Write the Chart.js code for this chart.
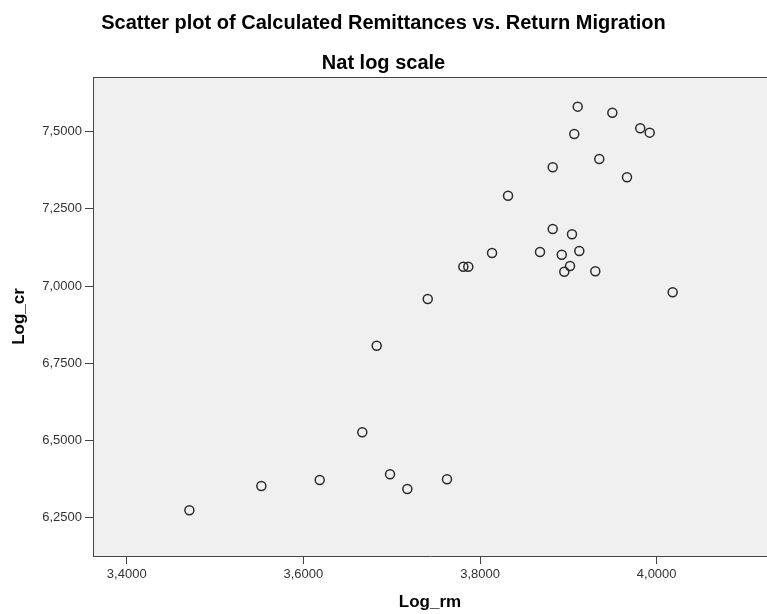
<!DOCTYPE html>
<html>
<head>
<meta charset="utf-8">
<script src="https://cdn.jsdelivr.net/npm/chart.js@4"></script>
<style>
  body { margin: 0; background: #fff; }
  #box { width: 767px; height: 614px; }
</style>
</head>
<body>
<div id="box"><canvas id="scatter"></canvas></div>
<script>
// valores
const logRm = [3.4709, 3.5524, 3.6185, 3.6667, 3.6830, 3.6981, 3.7177, 3.7408, 3.7626, 3.7811,
               3.7867, 3.8136, 3.8317, 3.8679, 3.8823, 3.8823, 3.8925, 3.8954, 3.9019, 3.9041,
               3.9067, 3.9106, 3.9124, 3.9305, 3.9350, 3.9498, 3.9664, 3.9814, 3.9921, 4.0181];
const logCr = [6.2740, 6.3527, 6.3721, 6.5266, 6.8070, 6.3905, 6.3429, 6.9582, 6.3744, 7.0628,
               7.0628, 7.1072, 7.2927, 7.1104, 7.3847, 7.1849, 7.1017, 7.0466, 7.0651, 7.1677,
               7.4926, 7.5810, 7.1137, 7.0479, 7.4116, 7.5615, 7.3523, 7.5110, 7.4968, 6.9799];
const xTicks = [3.4, 3.6, 3.8, 4.0];
const yTicks = [6.25, 6.5, 6.75, 7.0, 7.25, 7.5];

const puntos = logRm.map((x, i) => ({ x: x, y: logCr[i] }));
const coma = v => v.toFixed(4).replace('.', ',');

// fondo gris del área y línea superior
const fondo = {
  id: 'fondo',
  beforeDraw(chart) {
    const { ctx, chartArea: a } = chart;
    ctx.save();
    ctx.fillStyle = '#f0f0f0';
    ctx.fillRect(a.left, a.top, a.right - a.left, a.bottom - a.top);
    ctx.restore();
  },
  afterDraw(chart) {
    const { ctx, chartArea: a } = chart;
    ctx.save();
    ctx.strokeStyle = '#444';
    ctx.lineWidth = 1;
    ctx.beginPath();
    ctx.moveTo(a.left, a.top + 0.5);
    ctx.lineTo(a.right, a.top + 0.5);
    ctx.stroke();
    ctx.restore();
  }
};

const tickFont = { family: 'Arial, "Liberation Sans"', size: 13 };
const titleFont = { family: 'Arial, "Liberation Sans"', size: 17, weight: 'bold' };

new Chart(document.getElementById('scatter'), {
  type: 'scatter',
  data: {
    datasets: [{
      data: puntos,
      pointRadius: 4.5,
      pointHoverRadius: 4.5,
      pointBackgroundColor: 'rgba(0,0,0,0)',
      pointBorderColor: '#2a2a2a',
      pointBorderWidth: 1.5
    }]
  },
  options: {
    responsive: true,
    maintainAspectRatio: false,
    animation: false,
    layout: { padding: 0, autoPadding: false },
    scales: {
      x: {
        type: 'linear',
        min: 3.3618,
        max: 4.1249,
        afterFit: s => { s.height = 58; },
        afterBuildTicks: s => { s.ticks = xTicks.map(v => ({ value: v })); },
        grid: { drawOnChartArea: false, drawTicks: true, tickLength: 8, tickColor: '#444' },
        border: { display: true, color: '#444', width: 1 },
        ticks: { color: '#333', font: tickFont, padding: 3, maxRotation: 0, callback: v => coma(v) },
        title: { display: true, text: 'Log_rm', color: '#000', font: titleFont, padding: { top: 0, bottom: 1 } }
      },
      y: {
        type: 'linear',
        min: 6.126,
        max: 7.677,
        afterFit: s => { s.width = 93; },
        afterBuildTicks: s => { s.ticks = yTicks.map(v => ({ value: v })); },
        grid: { drawOnChartArea: false, drawTicks: true, tickLength: 8, tickColor: '#444' },
        border: { display: true, color: '#444', width: 1 },
        ticks: { color: '#333', font: tickFont, padding: 3, callback: v => coma(v) },
        title: { display: true, text: 'Log_cr', color: '#000', font: titleFont, padding: { top: 9, bottom: 0 } }
      }
    },
    plugins: {
      legend: { display: false },
      tooltip: { enabled: false },
      title: {
        display: true,
        text: 'Scatter plot of Calculated Remittances vs. Return Migration',
        color: '#000',
        font: { family: 'Arial, "Liberation Sans"', size: 20, weight: 'bold' },
        padding: { top: 11, bottom: 16 }
      },
      subtitle: {
        display: true,
        text: 'Nat log scale',
        color: '#000',
        font: { family: 'Arial, "Liberation Sans"', size: 20, weight: 'bold' },
        padding: { top: 0, bottom: 2 }
      }
    }
  },
  plugins: [fondo]
});
</script>
</body>
</html>
